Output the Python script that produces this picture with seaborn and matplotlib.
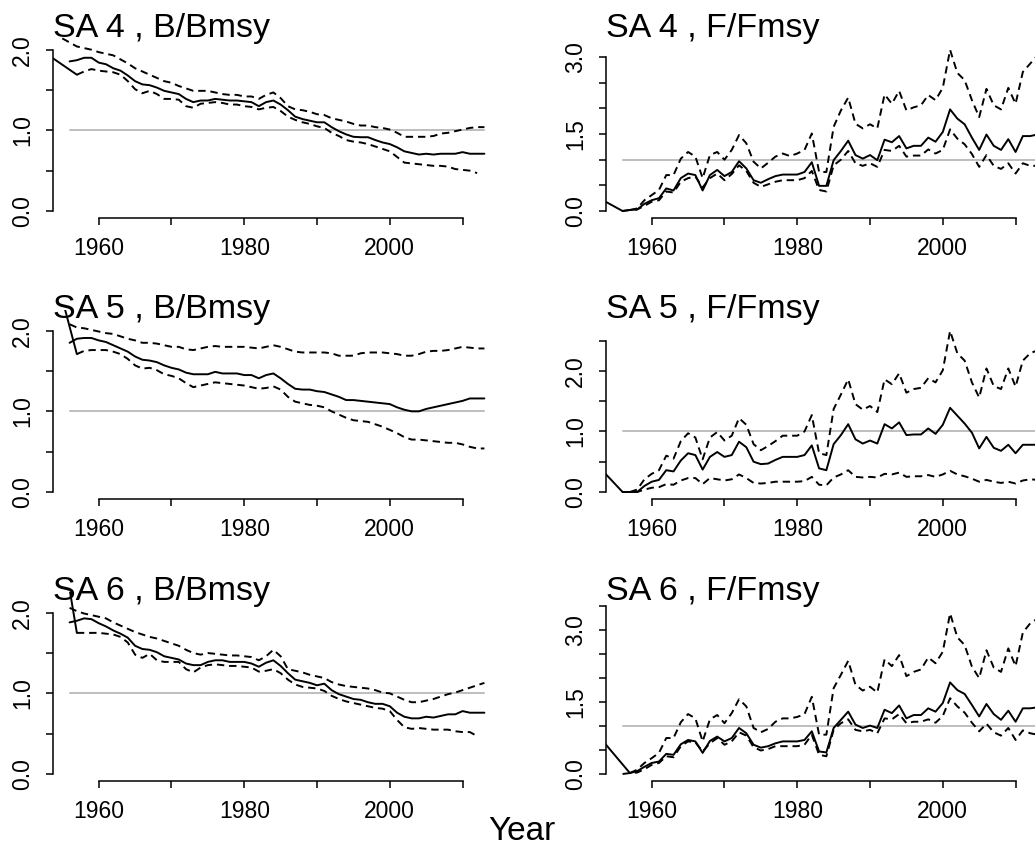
import numpy as np
import matplotlib
matplotlib.use("Agg")
import matplotlib.pyplot as plt
import seaborn as sns
from matplotlib.transforms import offset_copy

# ---------------- data ----------------
YEAR_FIRST, YEAR_LAST = 1956, 2013
x_ticks = [1960, 1970, 1980, 1990, 2000, 2010]
x_tick_labels = ["1960", "", "1980", "", "2000", ""]

# SA 4, B/Bmsy
sa4_b_mid_start = 1956
sa4_b_mid = [1.855, 1.87, 1.90, 1.90, 1.84, 1.82, 1.77, 1.74, 1.68, 1.61, 1.57, 1.56, 1.53, 1.49, 1.47, 1.45,
             1.39, 1.35, 1.37, 1.37, 1.39, 1.38, 1.37, 1.37, 1.36, 1.35, 1.30, 1.35, 1.37, 1.32, 1.25, 1.17,
             1.14, 1.12, 1.10, 1.10, 1.04, 0.99, 0.95, 0.92, 0.915, 0.915, 0.88, 0.85, 0.83, 0.79, 0.74, 0.72,
             0.70, 0.71, 0.70, 0.71, 0.71, 0.71, 0.73, 0.71, 0.71, 0.71]
sa4_b_hi_start = 1955
sa4_b_hi = [2.14, 2.09, 2.04, 2.02, 2.00, 1.97, 1.95, 1.93, 1.88, 1.83, 1.77, 1.73, 1.69, 1.65, 1.61, 1.59,
            1.55, 1.52, 1.49, 1.49, 1.49, 1.47, 1.45, 1.44, 1.44, 1.42, 1.42, 1.39, 1.44, 1.47, 1.40, 1.30,
            1.26, 1.25, 1.23, 1.20, 1.19, 1.15, 1.13, 1.11, 1.08, 1.06, 1.06, 1.04, 1.03, 1.01, 0.97, 0.92,
            0.92, 0.92, 0.92, 0.93, 0.96, 0.97, 0.99, 1.01, 1.03, 1.04, 1.04]
sa4_b_lo_start = 1957
sa4_b_lo = [1.69, 1.73, 1.76, 1.74, 1.73, 1.72, 1.69, 1.61, 1.51, 1.46, 1.49, 1.45, 1.39, 1.39, 1.38, 1.30,
            1.28, 1.33, 1.34, 1.35, 1.34, 1.32, 1.32, 1.30, 1.29, 1.26, 1.28, 1.29, 1.24, 1.17, 1.13, 1.10,
            1.08, 1.05, 1.03, 0.97, 0.93, 0.88, 0.86, 0.85, 0.83, 0.80, 0.77, 0.74, 0.67, 0.60, 0.59, 0.58,
            0.57, 0.56, 0.56, 0.55, 0.52, 0.51, 0.50, 0.47]
sa4_b_lead_years = [1952, 1957]
sa4_b_lead = [2.00, 1.69]

# SA 5, B/Bmsy
sa5_b_mid_start = 1956
sa5_b_mid = [1.85, 1.90, 1.91, 1.91, 1.88, 1.86, 1.82, 1.78, 1.74, 1.68, 1.64, 1.63, 1.61, 1.57, 1.54, 1.52,
             1.48, 1.46, 1.46, 1.46, 1.49, 1.47, 1.47, 1.47, 1.45, 1.45, 1.41, 1.45, 1.47, 1.41, 1.34, 1.28,
             1.27, 1.27, 1.25, 1.24, 1.21, 1.18, 1.14, 1.14, 1.13, 1.12, 1.11, 1.10, 1.09, 1.05, 1.02, 1.00,
             1.00, 1.03, 1.05, 1.07, 1.09, 1.11, 1.13, 1.16, 1.16, 1.16]
sa5_b_hi_start = 1956
sa5_b_hi = [2.08, 2.04, 2.03, 2.01, 1.99, 1.97, 1.96, 1.93, 1.90, 1.88, 1.85, 1.85, 1.84, 1.82, 1.80, 1.80,
            1.77, 1.76, 1.78, 1.80, 1.81, 1.80, 1.80, 1.80, 1.80, 1.79, 1.78, 1.80, 1.82, 1.80, 1.77, 1.74,
            1.73, 1.73, 1.73, 1.73, 1.72, 1.69, 1.69, 1.69, 1.72, 1.73, 1.73, 1.73, 1.72, 1.71, 1.69, 1.69,
            1.71, 1.74, 1.75, 1.75, 1.76, 1.78, 1.80, 1.79, 1.78, 1.78]
sa5_b_lo_start = 1957
sa5_b_lo = [1.71, 1.75, 1.76, 1.76, 1.76, 1.74, 1.71, 1.65, 1.57, 1.53, 1.54, 1.51, 1.46, 1.44, 1.41, 1.35,
            1.30, 1.32, 1.34, 1.36, 1.35, 1.34, 1.33, 1.32, 1.30, 1.28, 1.29, 1.31, 1.27, 1.18, 1.12, 1.10,
            1.08, 1.07, 1.05, 1.00, 0.96, 0.92, 0.89, 0.88, 0.87, 0.84, 0.81, 0.77, 0.73, 0.68, 0.65, 0.65,
            0.64, 0.63, 0.62, 0.61, 0.61, 0.59, 0.56, 0.54, 0.54]
sa5_b_lead_years = [1955, 1957]
sa5_b_lead = [2.39, 1.71]

# SA 6, B/Bmsy
sa6_b_mid_start = 1956
sa6_b_mid = [1.88, 1.90, 1.93, 1.92, 1.87, 1.83, 1.78, 1.74, 1.69, 1.59, 1.55, 1.54, 1.51, 1.46, 1.44, 1.42,
             1.37, 1.35, 1.35, 1.39, 1.41, 1.41, 1.39, 1.39, 1.39, 1.37, 1.33, 1.38, 1.41, 1.34, 1.25, 1.17,
             1.15, 1.13, 1.10, 1.12, 1.04, 0.99, 0.96, 0.93, 0.92, 0.89, 0.87, 0.87, 0.84, 0.76, 0.71, 0.69,
             0.69, 0.71, 0.70, 0.72, 0.74, 0.74, 0.78, 0.76, 0.76, 0.76]
sa6_b_hi_start = 1956
sa6_b_hi = [2.06, 2.02, 1.99, 1.97, 1.95, 1.93, 1.88, 1.84, 1.80, 1.76, 1.73, 1.70, 1.68, 1.65, 1.62, 1.59,
            1.54, 1.50, 1.48, 1.50, 1.49, 1.48, 1.47, 1.47, 1.46, 1.45, 1.41, 1.46, 1.54, 1.46, 1.30, 1.28,
            1.26, 1.23, 1.21, 1.19, 1.14, 1.11, 1.09, 1.08, 1.07, 1.06, 1.04, 1.01, 1.00, 0.96, 0.92, 0.89,
            0.89, 0.91, 0.93, 0.96, 0.99, 1.01, 1.04, 1.07, 1.10, 1.13]
sa6_b_lo_start = 1957
sa6_b_lo = [1.75, 1.75, 1.75, 1.75, 1.74, 1.73, 1.70, 1.63, 1.48, 1.44, 1.49, 1.41, 1.39, 1.39, 1.39, 1.30,
            1.26, 1.32, 1.35, 1.36, 1.35, 1.34, 1.34, 1.33, 1.32, 1.27, 1.28, 1.30, 1.25, 1.17, 1.11, 1.08,
            1.07, 1.06, 1.03, 0.97, 0.93, 0.90, 0.88, 0.86, 0.84, 0.82, 0.81, 0.78, 0.67, 0.58, 0.56, 0.57,
            0.56, 0.55, 0.55, 0.55, 0.53, 0.52, 0.52, 0.47]
sa6_b_lead_years = [1956, 1957]
sa6_b_lead = [2.29, 1.75]

# SA 4, F/Fmsy
sa4_f_mid_start = 1956
sa4_f_mid = [0.0, 0.02, 0.03, 0.14, 0.21, 0.25, 0.44, 0.40, 0.64, 0.73, 0.70, 0.40, 0.70, 0.80, 0.68, 0.76,
             0.97, 0.83, 0.60, 0.55, 0.62, 0.68, 0.71, 0.71, 0.71, 0.76, 0.95, 0.49, 0.49, 0.99, 1.17, 1.37,
             1.09, 1.02, 1.09, 0.99, 1.39, 1.34, 1.46, 1.22, 1.27, 1.27, 1.43, 1.35, 1.54, 1.98, 1.80, 1.69,
             1.43, 1.19, 1.49, 1.27, 1.19, 1.40, 1.15, 1.46, 1.46, 1.49]
sa4_f_hi_start = 1957
sa4_f_hi = [0.02, 0.05, 0.21, 0.31, 0.41, 0.70, 0.70, 1.02, 1.15, 1.06, 0.64, 1.09, 1.15, 1.00, 1.19, 1.48,
            1.32, 0.96, 0.83, 0.94, 1.06, 1.12, 1.07, 1.12, 1.19, 1.51, 0.76, 0.76, 1.64, 1.96, 2.21, 1.70,
            1.61, 1.69, 1.61, 2.27, 2.09, 2.34, 1.96, 2.02, 2.06, 2.26, 2.16, 2.40, 3.14, 2.69, 2.55, 2.16,
            1.83, 2.38, 2.06, 1.98, 2.40, 2.09, 2.71, 2.87, 3.03]
sa4_f_lo_start = 1956
sa4_f_lo = [0.0, 0.02, 0.03, 0.10, 0.18, 0.21, 0.38, 0.36, 0.57, 0.64, 0.67, 0.46, 0.64, 0.73, 0.60, 0.72,
            0.89, 0.78, 0.55, 0.47, 0.52, 0.57, 0.60, 0.60, 0.60, 0.64, 0.78, 0.41, 0.38, 0.89, 1.00, 1.17,
            0.93, 0.88, 0.93, 0.86, 1.19, 1.17, 1.27, 1.06, 1.08, 1.08, 1.20, 1.12, 1.19, 1.59, 1.41, 1.30,
            1.11, 0.86, 1.09, 0.88, 0.82, 0.93, 0.73, 0.93, 0.88, 0.88]
sa4_f_lead_years = [1952, 1956]
sa4_f_lead = [0.31, 0.0]

# SA 5, F/Fmsy
sa5_f_mid_start = 1956
sa5_f_mid = [0.0, 0.0, 0.0, 0.10, 0.17, 0.20, 0.36, 0.34, 0.52, 0.64, 0.61, 0.37, 0.58, 0.66, 0.58, 0.61,
             0.83, 0.74, 0.50, 0.46, 0.47, 0.53, 0.58, 0.58, 0.58, 0.61, 0.77, 0.39, 0.36, 0.79, 0.94, 1.12,
             0.87, 0.80, 0.85, 0.80, 1.12, 1.05, 1.15, 0.94, 0.95, 0.95, 1.05, 0.96, 1.11, 1.39, 1.26, 1.13,
             0.98, 0.72, 0.91, 0.73, 0.68, 0.78, 0.64, 0.78, 0.78, 0.78]
sa5_f_hi_start = 1957
sa5_f_hi = [0.0, 0.04, 0.21, 0.30, 0.36, 0.60, 0.55, 0.84, 0.97, 0.90, 0.54, 0.90, 0.99, 0.85, 0.93, 1.22,
            1.11, 0.79, 0.69, 0.76, 0.84, 0.93, 0.93, 0.93, 1.00, 1.27, 0.64, 0.61, 1.37, 1.61, 1.86, 1.45,
            1.36, 1.42, 1.32, 1.86, 1.78, 1.96, 1.64, 1.70, 1.72, 1.88, 1.81, 2.01, 2.66, 2.29, 2.17, 1.81,
            1.56, 2.04, 1.75, 1.70, 2.04, 1.74, 2.17, 2.29, 2.34]
sa5_f_lo_start = 1956
sa5_f_lo = [0.0, 0.0, 0.0, 0.04, 0.07, 0.08, 0.13, 0.12, 0.19, 0.23, 0.23, 0.13, 0.23, 0.21, 0.19, 0.21,
            0.29, 0.23, 0.15, 0.14, 0.15, 0.17, 0.17, 0.17, 0.17, 0.18, 0.25, 0.12, 0.11, 0.24, 0.29, 0.36,
            0.25, 0.24, 0.25, 0.24, 0.30, 0.29, 0.32, 0.25, 0.26, 0.26, 0.28, 0.25, 0.29, 0.35, 0.29, 0.26,
            0.22, 0.17, 0.20, 0.17, 0.15, 0.17, 0.14, 0.19, 0.21, 0.20]
sa5_f_lead_years = [1952, 1956]
sa5_f_lead = [0.51, 0.0]

# SA 6, F/Fmsy
sa6_f_mid_start = 1957
sa6_f_mid = [0.02, 0.06, 0.15, 0.23, 0.26, 0.42, 0.40, 0.62, 0.71, 0.68, 0.44, 0.69, 0.78, 0.68, 0.75, 0.96,
             0.85, 0.61, 0.55, 0.58, 0.64, 0.68, 0.68, 0.68, 0.71, 0.89, 0.47, 0.45, 0.96, 1.13, 1.30, 1.03,
             0.96, 1.01, 0.96, 1.34, 1.27, 1.43, 1.16, 1.23, 1.23, 1.37, 1.30, 1.48, 1.91, 1.75, 1.67, 1.44,
             1.20, 1.46, 1.25, 1.13, 1.32, 1.09, 1.37, 1.37, 1.39]
sa6_f_hi_start = 1957
sa6_f_hi = [0.02, 0.09, 0.23, 0.33, 0.44, 0.75, 0.75, 1.08, 1.25, 1.16, 0.68, 1.14, 1.23, 1.06, 1.27, 1.56,
            1.41, 0.96, 0.87, 0.94, 1.09, 1.16, 1.16, 1.19, 1.25, 1.61, 0.82, 0.82, 1.79, 2.07, 2.36, 1.86,
            1.74, 1.82, 1.70, 2.39, 2.25, 2.48, 2.04, 2.13, 2.18, 2.43, 2.31, 2.55, 3.35, 2.85, 2.69, 2.24,
            2.00, 2.58, 2.22, 2.13, 2.62, 2.25, 2.95, 3.14, 3.24]
sa6_f_lo_start = 1956
sa6_f_lo = [0.0, 0.02, 0.03, 0.10, 0.19, 0.23, 0.37, 0.35, 0.58, 0.68, 0.66, 0.47, 0.64, 0.75, 0.61, 0.68,
            0.87, 0.80, 0.56, 0.49, 0.52, 0.58, 0.58, 0.58, 0.58, 0.61, 0.82, 0.40, 0.37, 0.92, 1.06, 1.14,
            0.92, 0.89, 0.92, 0.85, 1.16, 1.14, 1.25, 1.06, 1.09, 1.09, 1.14, 1.07, 1.21, 1.58, 1.41, 1.28,
            1.07, 0.89, 1.05, 0.87, 0.80, 0.96, 0.71, 0.91, 0.85, 0.82]
sa6_f_lead_years = [1952, 1957]
sa6_f_lead = [0.92, 0.02]

titles = ["SA 4 , B/Bmsy", "SA 4 , F/Fmsy", "SA 5 , B/Bmsy", "SA 5 , F/Fmsy", "SA 6 , B/Bmsy", "SA 6 , F/Fmsy"]
y_data_max = [2.17, 3.41, 2.17, 2.89, 2.17, 3.65]
y_tick_max = [2.0, 3.0, 2.0, 2.5, 2.0, 3.5]
y_label_every = [2, 3, 2, 2, 2, 3]

panels = [
    (sa4_b_mid_start, sa4_b_mid, sa4_b_hi_start, sa4_b_hi, sa4_b_lo_start, sa4_b_lo, sa4_b_lead_years, sa4_b_lead),
    (sa4_f_mid_start, sa4_f_mid, sa4_f_hi_start, sa4_f_hi, sa4_f_lo_start, sa4_f_lo, sa4_f_lead_years, sa4_f_lead),
    (sa5_b_mid_start, sa5_b_mid, sa5_b_hi_start, sa5_b_hi, sa5_b_lo_start, sa5_b_lo, sa5_b_lead_years, sa5_b_lead),
    (sa5_f_mid_start, sa5_f_mid, sa5_f_hi_start, sa5_f_hi, sa5_f_lo_start, sa5_f_lo, sa5_f_lead_years, sa5_f_lead),
    (sa6_b_mid_start, sa6_b_mid, sa6_b_hi_start, sa6_b_hi, sa6_b_lo_start, sa6_b_lo, sa6_b_lead_years, sa6_b_lead),
    (sa6_f_mid_start, sa6_f_mid, sa6_f_hi_start, sa6_f_hi, sa6_f_lo_start, sa6_f_lo, sa6_f_lead_years, sa6_f_lead),
]

# ---------------- style ----------------
sns.set_theme(style="ticks", rc={
    "axes.edgecolor": "black", "xtick.color": "black", "ytick.color": "black",
    "text.color": "black", "axes.labelcolor": "black",
    "axes.facecolor": "white", "figure.facecolor": "white",
})
plt.rcParams["font.family"] = ["Liberation Sans", "DejaVu Sans"]

W, H = 1035, 846
fig = plt.figure(figsize=(W / 100, H / 100), dpi=100)

LW = 1.4
DASH = (0, (3.8, 2.5))
col_left = [53, 606]
row_top = [29, 310, 592]
AX_W, AX_H = 448, 189
XMIN = YEAR_FIRST - 0.04 * (YEAR_LAST - YEAR_FIRST)
XMAX = YEAR_LAST + 0.04 * (YEAR_LAST - YEAR_FIRST)


def series(ax, start, vals, ls, years=None):
    x = np.arange(start, start + len(vals)) if years is None else np.asarray(years)
    sns.lineplot(x=x, y=np.asarray(vals), ax=ax, color="black", linewidth=LW,
                 linestyle=ls, estimator=None, legend=False)


for i, (ms, mid, hs, hi, ls_, lo, lead_y, lead_v) in enumerate(panels):
    r, c = divmod(i, 2)
    ax = fig.add_axes([col_left[c] / W, 1 - (row_top[r] + AX_H) / H, AX_W / W, AX_H / H])
    ref_x = np.array([YEAR_FIRST, YEAR_LAST])
    sns.lineplot(x=ref_x, y=np.ones(2), ax=ax, color="#BEBEBE", linewidth=1.4,
                 estimator=None, legend=False)
    series(ax, ms, mid, "-")
    series(ax, hs, hi, DASH)
    series(ax, ls_, lo, DASH)
    series(ax, None, lead_v, "-", years=lead_y)

    ymax = y_data_max[i]
    ax.set_xlim(XMIN, XMAX)
    ax.set_ylim(-0.04 * ymax, 1.04 * ymax)

    yt = np.arange(0, y_tick_max[i] + 0.01, 0.5)
    ylabels = [f"{v:.1f}" if k % y_label_every[i] == 0 else "" for k, v in enumerate(yt)]
    ax.set_yticks(yt, ylabels)
    ax.set_xticks(x_ticks, x_tick_labels)

    for s in ("top", "right"):
        ax.spines[s].set_visible(False)
    ax.spines["left"].set_bounds(0, y_tick_max[i])
    ax.spines["bottom"].set_bounds(x_ticks[0], x_ticks[-1])
    for s in ("left", "bottom"):
        ax.spines[s].set_linewidth(1.1)

    ax.tick_params(axis="both", direction="out", length=5, width=1.1, labelsize=16.5)
    ax.tick_params(axis="x", pad=8.5)
    ax.tick_params(axis="y", pad=8.5, labelrotation=90)
    for lab in ax.get_yticklabels():
        lab.set_verticalalignment("center")
    ax.set_xlabel("")
    ax.set_ylabel("")

    ax.text(0, 1, titles[i], transform=offset_copy(ax.transAxes, fig=fig, y=-8, units="dots"),
            ha="left", va="baseline", fontsize=24.5)

fig.text(522 / W, 6 / H, "Year", ha="center", va="baseline", fontsize=24)

fig.savefig("out.png", dpi=100)
